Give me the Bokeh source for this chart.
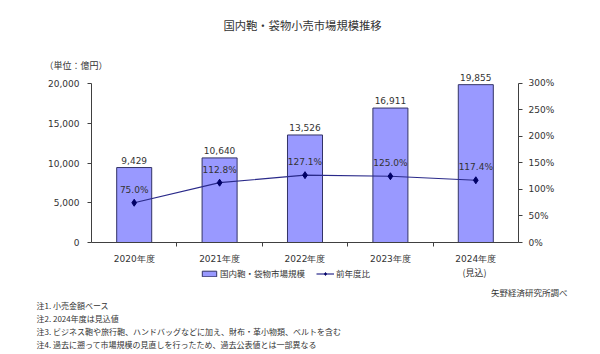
from bokeh.plotting import figure
from bokeh.layouts import column
from bokeh.models import (Range1d, LinearAxis, FixedTicker, NumeralTickFormatter,
                          PrintfTickFormatter, ColumnDataSource, LabelSet,
                          Legend, LegendItem)
from bokeh.core.properties import value
from bokeh.embed import file_html
from bokeh.resources import INLINE

# ---- data ----
categories = ["2020年度", "2021年度", "2022年度", "2023年度", "2024年度"]
market_size = [9429, 10640, 13526, 16911, 19855]          # 億円
yoy_pct = [75.0, 112.8, 127.1, 125.0, 117.4]               # 前年度比 %
left_ticks = [0, 5000, 10000, 15000, 20000]
right_ticks = [0, 50, 100, 150, 200, 250, 300]
title_text = "国内鞄・袋物小売市場規模推移"
unit_text = "（単位：億円）"
bar_name = "国内鞄・袋物市場規模"
line_name = "前年度比"
forecast_note = "(見込)"
source_text = "矢野経済研究所調べ"
notes = [
    "注1. 小売金額ベース",
    "注2. 2024年度は見込値",
    "注3. ビジネス鞄や旅行鞄、ハンドバッグなどに加え、財布・革小物類、ベルトを含む",
    "注4. 過去に遡って市場規模の見直しを行ったため、過去公表値とは一部異なる",
]

TXT = "#333333"
NUM_FONT = "DejaVu Sans"
JP_FONT = "Noto Sans CJK JP"
BAR_FILL = "#9999FF"
BAR_LINE = "#333366"
LINE_COL = "#2a2a8a"
MARK_COL = "#000066"

W = 600
HEADER_H = 71
MAIN_H = 196
FOOTER_H = 354 - HEADER_H - MAIN_H
NAN = float("nan")


def blank(h, y0):
    f = figure(width=W, height=h, output_backend="svg", toolbar_location=None,
               x_range=Range1d(0, W), y_range=Range1d(y0 + h, y0),
               min_border_left=0, min_border_right=0, min_border_top=0,
               min_border_bottom=0, x_axis_location=None, y_axis_location=None,
               frame_align=False)
    f.xgrid.visible = False
    f.ygrid.visible = False
    f.outline_line_color = None
    return f


def txt(f, x, y, t, size, align="left", font=JP_FONT):
    f.text(x=[x], y=[y], text=[t], text_align=align, text_baseline="middle",
           text_font=value(font), text_font_size=size, text_color=TXT)


# ---------------- header ----------------
header = blank(HEADER_H, 0)
txt(header, 302, 24, title_text, "11.3px", align="center")
txt(header, 44, 65, unit_text, "9px")

# ---------------- main chart ----------------
n = len(categories)
centers = [i + 0.5 for i in range(n)]
boundaries = [float(i) for i in range(1, n)]

src = ColumnDataSource(dict(
    x=centers, size=market_size, pct=yoy_pct,
    size_lbl=[f"{v:,}" for v in market_size],
    pct_lbl=[f"{v:.1f}%" for v in yoy_pct],
))

p = figure(width=W, height=MAIN_H, output_backend="svg", toolbar_location=None,
           x_range=Range1d(0, n), y_range=Range1d(0, 21510),
           min_border_left=91, min_border_right=82, min_border_top=0,
           min_border_bottom=25, y_axis_location=None, x_axis_location=None,
           frame_align=False)
p.extra_y_ranges = {"pct": Range1d(0, 322.6)}
p.xgrid.visible = False
p.ygrid.visible = False
p.outline_line_color = None


def style_axis(ax):
    ax.axis_line_color = "#404040"
    ax.major_tick_line_color = "#404040"
    ax.minor_tick_line_color = None
    ax.major_tick_in = 0
    ax.major_tick_out = 4
    ax.major_label_text_font = NUM_FONT
    ax.major_label_text_font_size = "9px"
    ax.major_label_text_color = TXT


yl = LinearAxis(ticker=FixedTicker(ticks=left_ticks),
                formatter=NumeralTickFormatter(format="0,0"), bounds=(0, 20000))
style_axis(yl)
yl.major_label_standoff = 8
p.add_layout(yl, "left")

yr = LinearAxis(y_range_name="pct", ticker=FixedTicker(ticks=right_ticks),
                formatter=PrintfTickFormatter(format="%d%%"), bounds=(0, 300))
style_axis(yr)
yr.major_label_standoff = 6
p.add_layout(yr, "right")

xa = LinearAxis(ticker=FixedTicker(ticks=centers, minor_ticks=boundaries),
                major_label_overrides={c: lab for c, lab in zip(centers, categories)})
style_axis(xa)
xa.major_tick_line_color = None
xa.major_tick_out = 0
xa.minor_tick_line_color = "#404040"
xa.minor_tick_in = 0
xa.minor_tick_out = 4
xa.major_label_standoff = 7
p.add_layout(xa, "below")

p.vbar(x="x", top="size", width=0.41, source=src,
       fill_color=BAR_FILL, line_color=BAR_LINE, line_width=1)
p.line(x="x", y="pct", source=src, y_range_name="pct",
       line_color=LINE_COL, line_width=1.2)
p.scatter(x="x", y="pct", source=src, y_range_name="pct", marker="diamond",
          size=7, fill_color=MARK_COL, line_color=MARK_COL)

p.add_layout(LabelSet(x="x", y="size", text="size_lbl", source=src,
                      text_align="center", text_baseline="bottom", y_offset=4,
                      text_font=value(NUM_FONT), text_font_size=value("9px"),
                      text_color=TXT))
p.add_layout(LabelSet(x="x", y="pct", text="pct_lbl", source=src, y_range_name="pct",
                      text_align="center", text_baseline="bottom", y_offset=8,
                      text_font=value(NUM_FONT), text_font_size=value("9px"),
                      text_color=TXT))

# ---------------- footer (legend, notes) ----------------
y0 = HEADER_H + MAIN_H
footer = blank(FOOTER_H, y0)
# legend proxies (no drawable data; only their styles are used by the legend)
lg_bar = footer.vbar(x=[NAN], top=[NAN], width=1,
                     fill_color=BAR_FILL, line_color=BAR_LINE)
lg_line = footer.line(x=[NAN, NAN], y=[NAN, NAN], line_color=LINE_COL,
                      line_width=1.2)
lg_mark = footer.scatter(x=[NAN], y=[NAN], marker="diamond", size=6,
                         fill_color=MARK_COL, line_color=MARK_COL)
legend = Legend(items=[LegendItem(label=bar_name, renderers=[lg_bar]),
                       LegendItem(label=line_name, renderers=[lg_line, lg_mark])],
                orientation="horizontal", location=(200, FOOTER_H - 12),
                padding=0, margin=0, spacing=11, glyph_width=18, glyph_height=7,
                label_standoff=2, label_text_font=JP_FONT, label_text_font_size="8.5px",
                label_text_color=TXT, label_height=10, border_line_color=None,
                background_fill_alpha=0)
footer.add_layout(legend, "center")

txt(footer, 474, 272, forecast_note, "9px", align="center")
txt(footer, 567, 291, source_text, "8.5px", align="right")
for i, t in enumerate(notes):
    txt(footer, 36, 305 + 13 * i, t, "8px")

layout = column(header, p, footer, spacing=0)
open("out.html", "w").write(file_html(layout, INLINE))
